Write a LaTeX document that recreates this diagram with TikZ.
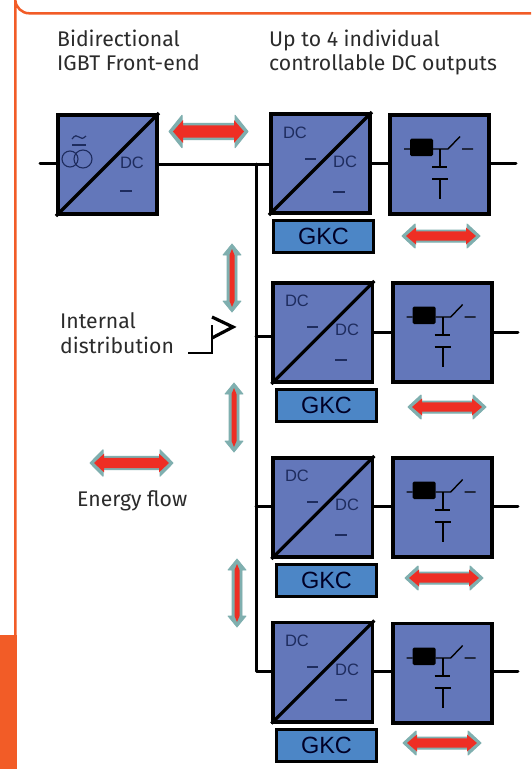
\documentclass[tikz,border=0pt]{standalone}
\usepackage{fontspec}
\setmainfont{Fira Sans}
\newfontfamily\arialf{Liberation Sans}
\definecolor{frameor}{HTML}{F25C27}
\definecolor{boxblue}{HTML}{6377BA}
\definecolor{gkcblue}{HTML}{4C86C6}
\definecolor{dctext}{HTML}{1E2C5E}
\definecolor{txt}{HTML}{2B2B2B}
\definecolor{teal1}{HTML}{7FAFAF}
\definecolor{red1}{HTML}{EE2E24}
\tikzset{
  x=1pt,y=-1pt,
  wire/.style={line width=3pt,black,line cap=round,line join=round},
  conv/.style={draw=black,line width=3.8pt,fill=boxblue,minimum width=99.2pt,minimum height=99.2pt,inner sep=0pt,anchor=north west},
  gkc/.style={draw=black,line width=3pt,fill=gkcblue,minimum width=100pt,minimum height=32pt,inner sep=0pt,anchor=north west,font=\arialf\fontsize{23.5}{24}\selectfont,text=black!85!blue},
  lab/.style={anchor=base west,inner sep=0pt,text=txt,font=\fontsize{21.2}{22}\selectfont},
  dcl/.style={inner sep=0pt,text=dctext,font=\arialf\fontsize{16.5}{17}\selectfont},
  minusl/.style={line width=1.3pt,dctext},
}
% horizontal double arrow: x1 x2 y yscale
\newcommand{\flowH}[4]{%
  \begin{scope}[shift={(#1,#3)},yscale=#4]
    \pgfmathsetmacro{\len}{#2-#1}
    \pgfmathsetmacro{\headb}{\len-13}
    \fill[teal1,draw=teal1,line width=1pt,line join=round] (0,0)--(13,-12)--(13,-6)--(\headb,-6)--(\headb,-12)--(\len,0)--(\headb,12)--(\headb,6)--(13,6)--(13,12)--cycle;
    \fill[red1] (4,0)--(14,-8.5)--(14,-4.6)--(\headb-1,-4.6)--(\headb-1,-8.5)--(\len-4,0)--(\headb-1,8.5)--(\headb-1,4.6)--(14,4.6)--(14,8.5)--cycle;
  \end{scope}}
\newcommand{\flowV}[3]{%
  \begin{scope}[shift={(#1,#2)}]
    \pgfmathsetmacro{\len}{#3-#2}
    \pgfmathsetmacro{\headb}{\len-11}
    \fill[teal1,draw=teal1,line width=.8pt,line join=round] (0,0)--(-9,11)--(-5,11)--(-5,\headb)--(-9,\headb)--(0,\len)--(9,\headb)--(5,\headb)--(5,11)--(9,11)--cycle;
    \fill[red1] (0,5)--(-2.5,11)--(-2.5,\headb)--(0,\len-5)--(2.5,\headb)--(2.5,11)--cycle;
  \end{scope}}
\newcommand{\convDetail}[3]{%
  \draw[line width=3.2pt,black] (#1.south west)--(#1.north east);
  \node[dcl] (#1a) at (#2+26,#3+20) {DC};
  \node[dcl] (#1b) at (#2+76,#3+49) {DC};
  \draw[minusl] (#2+36,#3+46)--(#2+47,#3+46);
  \draw[minusl] (#2+64,#3+79)--(#2+76,#3+79);}
\newcommand{\swDetail}[2]{%
  \begin{scope}[shift={(#1,#2)}]
    \fill[black,rounded corners=1.5pt] (22,25.5) rectangle (45,43);
    \draw[line width=1.4pt] (16,36)--(22,36) (45,36)--(60,36)--(72,23.5) (74,36)--(85,36);
    \draw[line width=1.7pt] (52,36)--(52,54) (44,54)--(59,54);
    \draw[line width=1.7pt] (44,66)--(60,66) (52,66)--(52,86);
  \end{scope}}
\begin{document}
\begin{tikzpicture}
\useasboundingbox (0,0) rectangle (531,769);
\fill[white] (0,0) rectangle (531,769);
\draw[frameor,line width=2.5pt] (531,13.3)--(29.3,13.3) arc[start angle=90,end angle=180,radius=14] -- (15.3,769);
\fill[frameor] (0,635) rectangle (16.7,769);
\node[lab] (t1) at (57,46) {Bidirectional};
\node[lab] (t2) at (57,70) {IGBT Front-end};
\node[lab] (t3) at (269,46) {Up to 4 individual};
\node[lab] (t4) at (269,70) {controllable DC outputs};
\node[lab] (t5) at (60,328) {Internal};
\node[lab] (t6) at (60,353) {distribution};
\node[lab] (t7) at (77,506) {Energy flow};
\node[conv] (fe) at (56,113) {};
\node[conv] (c1) at (269,112) {};
\node[conv] (s1) at (388,113) {};
\node[gkc]  (g1) at (272,219) {GKC};
\node[conv] (c2) at (271.3,281) {};
\node[conv] (s2) at (390.7,281) {};
\node[gkc]  (g2) at (275,388) {GKC};
\node[conv] (c3) at (271.3,456) {};
\node[conv] (s3) at (390.7,456) {};
\node[gkc]  (g3) at (275,563) {GKC};
\node[conv] (c4) at (271.3,620.5) {};
\node[conv] (s4) at (390.7,621.5) {};
\node[gkc]  (g4) at (275,728) {GKC};
\coordinate (in) at (40,163.5);
\coordinate (bt) at (256,164);
\coordinate (b2) at (256,336);
\coordinate (b3) at (256,506);
\coordinate (b4) at (256,671);
\coordinate (o1) at (516,163);
\coordinate (o2) at (518,332);
\coordinate (o3) at (518,506);
\coordinate (o4) at (518,671);
\draw[wire] (in)--(in -| fe.west);
\draw[wire] (bt -| fe.east)--(bt -| c1.west);
\draw[wire] (bt)--(b4)--(b4 -| c4.west);
\draw[wire] (b2)--(b2 -| c2.west);
\draw[wire] (b3)--(b3 -| c3.west);
\draw[wire] (c1.east)--(c1.east -| s1.west);
\draw[wire] (c2.east |- o2)--(s2.west |- o2);
\draw[wire] (c3.east |- o3)--(s3.west |- o3);
\draw[wire] (c4.east |- o4)--(s4.west |- o4);
\draw[wire] (s1.east |- o1)--(o1);
\draw[wire] (s2.east |- o2)--(o2);
\draw[wire] (s3.east |- o3)--(o3);
\draw[wire] (s4.east |- o4)--(o4);
\draw[line width=3.2pt,black] (fe.south west)--(fe.north east);
\node[dcl] (fedc) at (132,163) {DC};
\draw[minusl] (120,191)--(132,191);
\draw[line width=1.1pt,dctext] (70,159) circle[radius=8];
\draw[line width=1.1pt,dctext] (83,159) circle[radius=9];
\draw[line width=1.2pt,dctext] (72,139) .. controls (75,135) and (77,135) .. (79,137) .. controls (81,139) and (83,139) .. (86,136);
\draw[line width=1.2pt,dctext] (72,145)--(86,145);
\convDetail{c1}{269}{113}
\convDetail{c2}{271}{281}
\convDetail{c3}{271}{456}
\convDetail{c4}{271}{621}
\swDetail{388}{113}
\swDetail{390.7}{281}
\swDetail{390.7}{456}
\swDetail{390.7}{622}
\draw[line width=2pt,black] (188,353)--(212,353)--(212,325);
\draw[line width=3.2pt,black,line join=miter] (212,317)--(233,327)--(212,338);
\flowH{169}{248}{131.5}{1.35}
\flowH{402}{480}{236}{1}
\flowH{408}{486}{407}{1}
\flowH{405}{483}{578}{1}
\flowH{403}{481}{743}{1}
\flowH{90}{173}{463}{1.1}
\flowV{232}{244}{312}
\flowV{234}{383}{452}
\flowV{237}{559}{627}
\end{tikzpicture}
\end{document}
